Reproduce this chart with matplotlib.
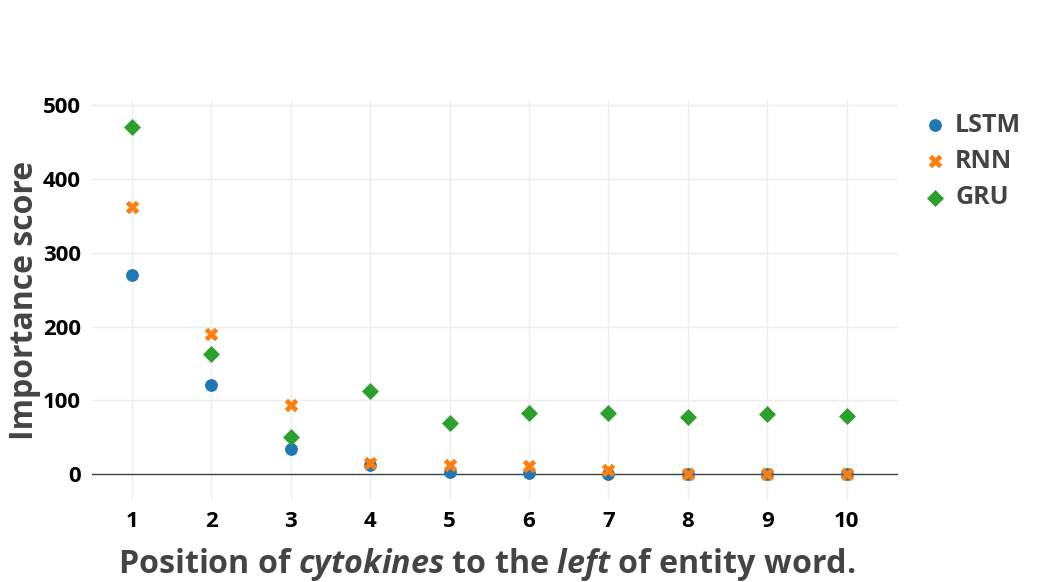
import numpy as np
import matplotlib.pyplot as plt

plt.rcParams['font.family'] = ['Open Sans', 'DejaVu Sans']
plt.rcParams['mathtext.fontset'] = 'custom'
plt.rcParams['mathtext.it'] = 'Open Sans:italic:bold'
plt.rcParams['mathtext.rm'] = 'Open Sans:bold'

positions = [1, 2, 3, 4, 5, 6, 7, 8, 9, 10]
lstm = [270, 121, 34, 12, 3, 1.5, 0.5, 0, 0, 0]
rnn = [362, 190, 94, 15, 12, 11, 5, 0, 0, 0]
gru = [470, 163, 50, 112, 69, 83, 83, 77, 81, 79]

fig = plt.figure(figsize=(10.37, 5.82), dpi=100)
ax = fig.add_axes([0.0887, 0.141, 0.777, 0.687])

ax.scatter(positions, lstm, marker="o", s=85, color="#1f77b4", label="LSTM", zorder=3, linewidths=0)
ax.scatter(positions, rnn, marker="X", s=95, color="#ff7f0e", label="RNN", zorder=3, linewidths=0)
ax.scatter(positions, gru, marker="D", s=75, color="#2ca02c", label="GRU", zorder=3, linewidths=0)

ax.axhline(0, color="#444444", lw=1, zorder=2)
ax.set_xlim(0.5, 10.64)
ax.set_ylim(-35, 507)
ax.set_xticks(positions)
ax.set_yticks([0, 100, 200, 300, 400, 500])
ax.grid(True, color="#eeeeee", lw=1, zorder=0)
ax.set_axisbelow(True)
for s in ax.spines.values():
    s.set_visible(False)
ax.tick_params(length=0, labelsize=16, pad=8)
for lab in ax.get_xticklabels() + ax.get_yticklabels():
    lab.set_fontweight("bold")

ax.set_xlabel("Position of $\\it{cytokines}$ to the $\\it{left}$ of entity word.",
              fontsize=23.2, fontweight="bold", color="#444444")
ax.xaxis.set_label_coords(0.49, -0.115)
ax.set_ylabel("Importance score", fontsize=23, fontweight="bold", color="#444444")
ax.yaxis.set_label_coords(-0.063, 0.5)

leg = ax.legend(loc="upper left", bbox_to_anchor=(1.006, 1.012), frameon=False,
                prop={"size": 18, "weight": "bold"}, handletextpad=0.2, labelspacing=0.45,
                handlelength=1.2, borderaxespad=0.3)
for t in leg.get_texts():
    t.set_color("#444444")

fig.savefig("out.png", dpi=100)
